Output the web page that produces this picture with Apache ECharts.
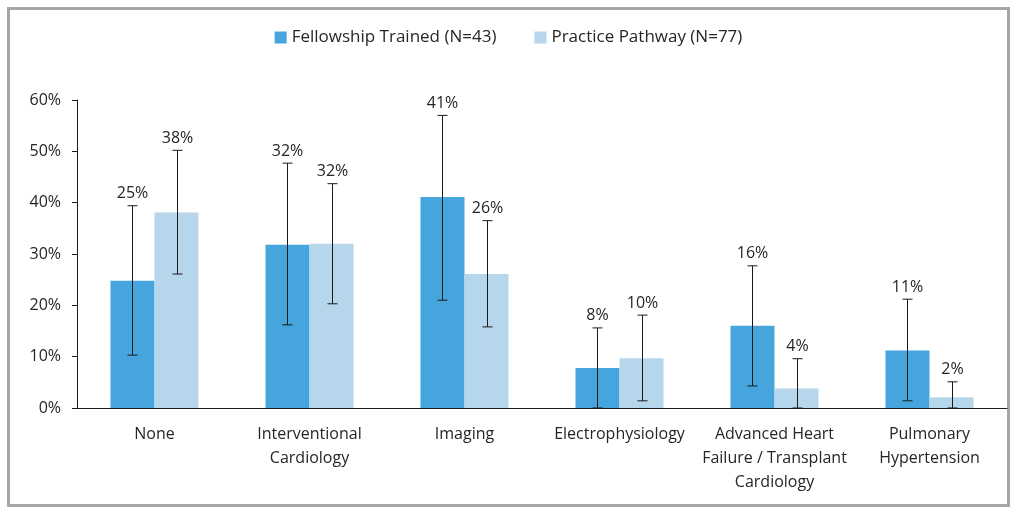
<!DOCTYPE html>
<html lang="en">
<head>
  <meta charset="UTF-8">
  <title>Fellowship vs Practice Pathway</title>
  <script src="https://cdn.jsdelivr.net/npm/echarts@6/dist/echarts.min.js"></script>
  <style>
    html, body { margin: 0; padding: 0; background: #fff; }
    #frame { position: absolute; left: 7px; top: 7px; width: 1003px; height: 500px;
             border: 3px solid #a6a6a6; box-sizing: border-box; }
    #chart { position: absolute; left: 0; top: 0; width: 1017px; height: 512px; }
  </style>
</head>
<body>
  <div id="frame"></div>
  <div id="chart"></div>
  <script>
    // categories and values
    const categories = ['None', 'Interventional\nCardiology', 'Imaging', 'Electrophysiology',
      'Advanced Heart\nFailure / Transplant\nCardiology', 'Pulmonary\nHypertension'];
    const fellowship = [24.8, 31.8, 41.1, 7.8, 16.0, 11.2];
    const practice   = [38.1, 32.0, 26.1, 9.7, 3.8, 2.1];
    const fellowshipLow  = [10.3, 16.2, 21.0, 0, 4.3, 1.4];
    const fellowshipHigh = [39.4, 47.7, 57.0, 15.6, 27.7, 21.2];
    const practiceLow    = [26.1, 20.3, 15.8, 1.4, 0, 0];
    const practiceHigh   = [50.2, 43.7, 36.5, 18.1, 9.6, 5.1];

    const textColor = '#262626';
    const font = 'Open Sans';

    function errorSeries(name, vals, lows, highs, shift) {
      const data = vals.map((v, i) => [i, lows[i], highs[i], v]);
      return {
        type: 'custom',
        name: name + ' err',
        z: 5,
        data: data,
        renderItem: function (params, api) {
          const band = api.size([1, 0])[0];
          const c = api.coord([api.value(0), 0]);
          const x = Math.round(c[0] + shift * band) + 0.5;
          const lo = api.coord([api.value(0), api.value(1)])[1];
          const hi = api.coord([api.value(0), api.value(2)])[1];
          const cap = 5;
          const st = { stroke: '#1a1a1a', lineWidth: 1 };
          return {
            type: 'group',
            children: [
              { type: 'line', shape: { x1: x, y1: lo, x2: x, y2: hi }, style: st },
              { type: 'line', shape: { x1: x - cap, y1: lo, x2: x + cap, y2: lo }, style: st },
              { type: 'line', shape: { x1: x - cap, y1: hi, x2: x + cap, y2: hi }, style: st },
              { type: 'text', x: x, y: hi - 4,
                style: { text: Math.round(api.value(3)) + '%', fill: textColor,
                  font: '16px "' + font + '"', align: 'center', verticalAlign: 'bottom' } }
            ]
          };
        }
      };
    }

    const chart = echarts.init(document.getElementById('chart'));
    chart.setOption({
      animation: false,
      textStyle: { fontFamily: font },
      legend: {
        top: 24,
        left: 'center',
        itemWidth: 12,
        itemHeight: 12,
        itemGap: 38,
        icon: 'rect',
        textStyle: { fontSize: 17, color: textColor },
        data: ['Fellowship Trained (N=43)', 'Practice Pathway (N=77)']
      },
      grid: { left: 77, right: 10, top: 100, bottom: 104 },
      xAxis: {
        type: 'category',
        data: categories,
        axisLine: { lineStyle: { color: '#1a1a1a' } },
        axisTick: { length: 6, lineStyle: { color: '#1a1a1a' } },
        axisLabel: { color: textColor, fontSize: 16, margin: 14, lineHeight: 24, interval: 0 }
      },
      yAxis: {
        type: 'value',
        min: 0, max: 60, interval: 10,
        axisLine: { show: true, lineStyle: { color: '#1a1a1a' } },
        axisTick: { show: true, length: 5, lineStyle: { color: '#1a1a1a' } },
        splitLine: { show: false },
        axisLabel: { color: textColor, fontSize: 16, margin: 16, formatter: '{value}%' }
      },
      series: [
        { name: 'Fellowship Trained (N=43)', type: 'bar', data: fellowship,
          barWidth: '28.4%', barGap: '0%', itemStyle: { color: '#45a5dc' } },
        { name: 'Practice Pathway (N=77)', type: 'bar', data: practice,
          barWidth: '28.4%', itemStyle: { color: '#b6d6ec' } },
        errorSeries('fellowship', fellowship, fellowshipLow, fellowshipHigh, -0.142),
        errorSeries('practice', practice, practiceLow, practiceHigh, 0.142)
      ]
    });
  </script>
</body>
</html>
